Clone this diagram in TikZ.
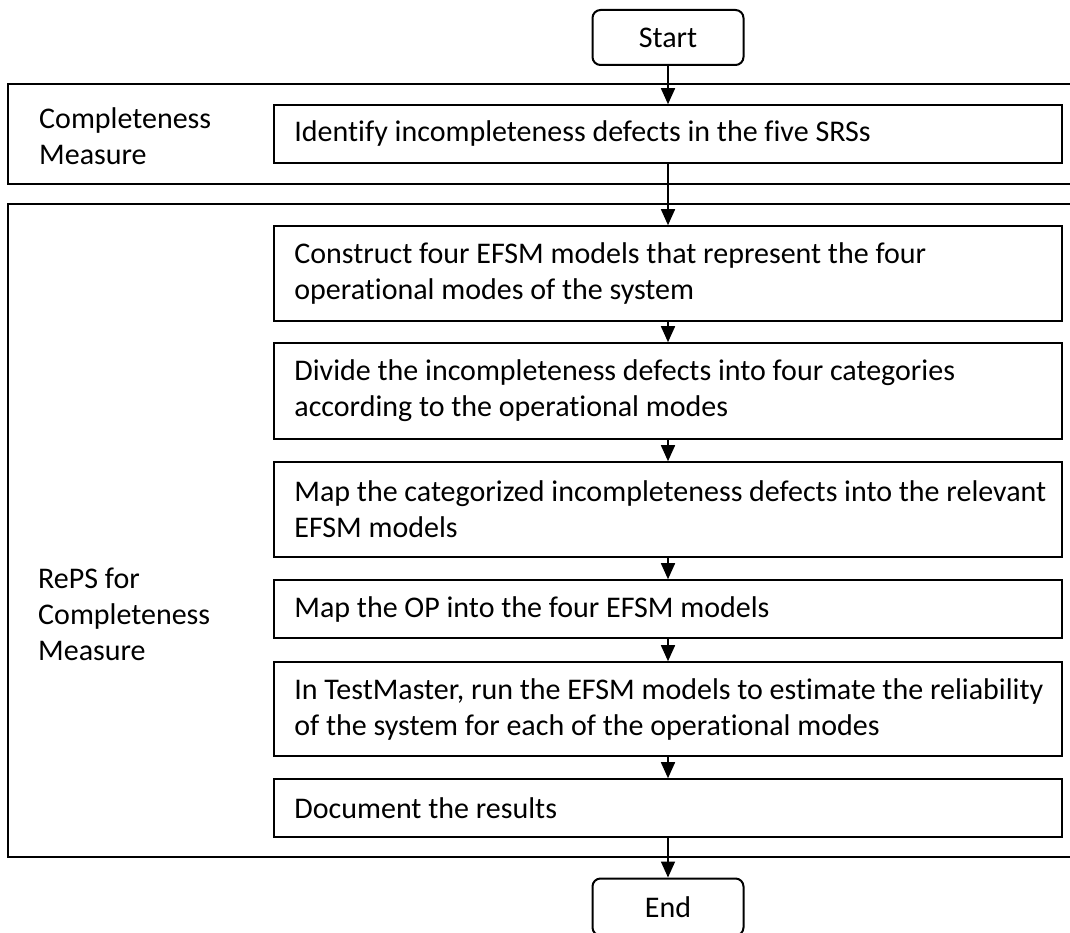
\documentclass[tikz,border=0pt]{standalone}
\usepackage{fontspec}
\setmainfont{Carlito}[Ligatures=CommonOff]
\usetikzlibrary{arrows.meta}
\begin{document}
\begin{tikzpicture}[x=1pt,y=-1pt,
  every node/.style={font=\fontsize{30}{36}\selectfont},
  stepbox/.style={draw, line width=1.6pt, minimum width=788pt, inner sep=0pt},
  txt/.style={anchor=west, align=left, inner sep=0pt},
  terminal/.style={draw, line width=2pt, rounded corners=8pt, minimum width=151pt,
                   minimum height=55pt, inner sep=0pt},
  frame/.style={line width=1.6pt},
  flow/.style={line width=1.6pt, -{Triangle[width=14pt,length=16pt]}}]
\useasboundingbox (0,0) rectangle (1070,933);

% phase frames, open on the right
\draw[frame] (1075,84) -- (8,84) -- (8,184) -- (1075,184);
\draw[frame] (1075,204) -- (8,204) -- (8,857) -- (1075,857);

% phase labels
\node[txt] (l1) at (39,136) {Completeness\\Measure};
\node[txt] (l2) at (38,614) {RePS for\\Completeness\\Measure};

% terminals
\node[terminal] (start) at (668,37.5) {Start};
\node[terminal, minimum height=57pt] (end) at (668,907) {End};

% process steps
\node[stepbox, minimum height=58pt] (b1) at (668,134) {};
\node[txt] (t1) at ([xshift=21pt]b1.west) {Identify incompleteness defects in the five SRSs};

\node[stepbox, minimum height=95pt] (b2) at (668,273.5) {};
\node[txt] (t2) at ([xshift=21pt]b2.west) {Construct four EFSM models that represent the four\\operational modes of the system};

\node[stepbox, minimum height=96pt] (b3) at (668,391) {};
\node[txt] (t3) at ([xshift=21pt]b3.west) {Divide the incompleteness defects into four categories\\according to the operational modes};

\node[stepbox, minimum height=95pt] (b4) at (668,509.5) {};
\node[txt] (t4) at ([xshift=21pt]b4.west) {Map the categorized incompleteness defects into the relevant\\EFSM models};

\node[stepbox, minimum height=58pt] (b5) at (668,609) {};
\node[txt] (t5) at ([xshift=21pt]b5.west) {Map the OP into the four EFSM models};

\node[stepbox, minimum height=94pt] (b6) at (668,709) {};
\node[txt] (t6) at ([xshift=21pt]b6.west) {In TestMaster, run the EFSM models to estimate the reliability\\of the system for each of the operational modes};

\node[stepbox, minimum height=58pt] (b7) at (668,808) {};
\node[txt] (t7) at ([xshift=21pt]b7.west) {Document the results};

% flow
\draw[flow] (start) -- (b1);
\draw[flow] (b1) -- (b2);
\draw[flow] (b2) -- (b3);
\draw[flow] (b3) -- (b4);
\draw[flow] (b4) -- (b5);
\draw[flow] (b5) -- (b6);
\draw[flow] (b6) -- (b7);
\draw[flow] (b7) -- (end);
\end{tikzpicture}
\end{document}
